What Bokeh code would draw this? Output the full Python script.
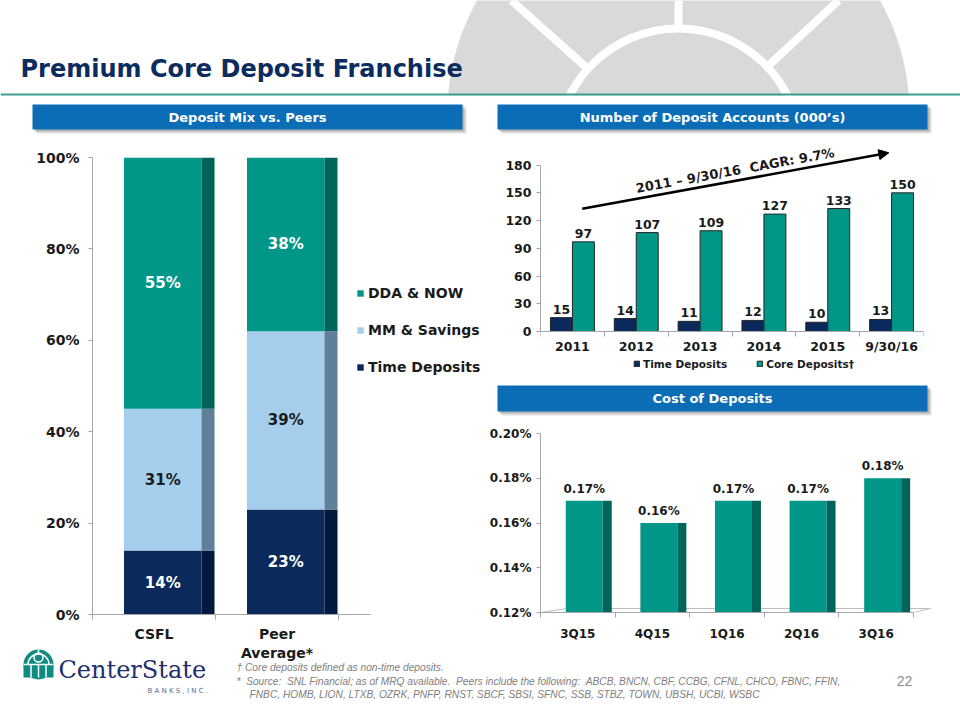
import numpy as np
from bokeh.plotting import figure
from bokeh.layouts import column, row
from bokeh.models import (Range1d, FixedTicker, PrintfTickFormatter, Legend, LegendItem,
                          Arrow, NormalHead, Label, ColumnDataSource)
from bokeh.core.properties import value
from bokeh.embed import file_html
from bokeh.resources import INLINE

# ------------------------------------------------------------------ data
MIX_CATEGORIES = ["CSFL", "Peer\nAverage*"]
MIX_SERIES = ["Time Deposits", "MM & Savings", "DDA & NOW"]
MIX_TIME = [14, 23]
MIX_MM = [31, 39]
MIX_DDA = [55, 38]
MIX_TICKS = [0, 20, 40, 60, 80, 100]

ACCT_YEARS = ["2011", "2012", "2013", "2014", "2015", "9/30/16"]
ACCT_TIME = [15, 14, 11, 12, 10, 13]
ACCT_CORE = [97, 107, 109, 127, 133, 150]
ACCT_TICKS = [0, 30, 60, 90, 120, 150, 180]
ACCT_SERIES = ["Time Deposits", "Core Deposits†"]
CAGR_TEXT = "2011 – 9/30/16\u00a0\u00a0CAGR: 9.7%"

COST_QUARTERS = ["3Q15", "4Q15", "1Q16", "2Q16", "3Q16"]
COST_VALUES = [0.17, 0.16, 0.17, 0.17, 0.18]
COST_TICKS = [0.12, 0.14, 0.16, 0.18, 0.20]

TITLE = "Premium Core Deposit Franchise"
BANNER_TEXTS = ["Deposit Mix vs. Peers", "Number of Deposit Accounts (000’s)", "Cost of Deposits"]
FOOTNOTES = ["† Core deposits defined as non-time deposits.",
             "*\u00a0\u00a0Source:\u00a0\u00a0SNL Financial; as of MRQ available.\u00a0\u00a0Peers include the following:\u00a0\u00a0"
             "ABCB, BNCN, CBF, CCBG, CFNL, CHCO, FBNC, FFIN,",
             "FNBC, HOMB, LION, LTXB, OZRK, PNFP, RNST, SBCF, SBSI, SFNC, SSB, STBZ, TOWN, UBSH, UCBI, WSBC"]
PAGE_NUMBER = "22"

# ------------------------------------------------------------------ style
W, H = 960, 720
TEAL, TEAL_D = "#009688", "#00645b"
LIGHT, LIGHT_D = "#a5cdec", "#60809a"
NAVY, NAVY_D = "#0b2a5b", "#021a3f"
AXIS = "#a6a6a6"
INK = "#1a1a1a"
BLUE = "#0b6db6"
FONT = "DejaVu Sans"


def layer(fl, ft, fr, fb, xr, yr):
    """A full-page transparent figure whose frame sits at page box (fl, ft, fr, fb)."""
    p = figure(width=W, height=H, x_range=xr, y_range=yr, output_backend="svg",
               toolbar_location=None,
               min_border_left=int(round(fl)), min_border_right=int(round(W - fr)),
               min_border_top=int(round(ft)), min_border_bottom=int(round(H - fb)))
    p.background_fill_color = None
    p.border_fill_color = None
    p.outline_line_color = None
    p.grid.visible = False
    return p


def style_axes(p, size):
    for ax in (p.xaxis[0], p.yaxis[0]):
        ax.axis_line_color = AXIS
        ax.major_tick_line_color = AXIS
        ax.minor_tick_line_color = AXIS
        ax.major_label_text_font = FONT
        ax.major_label_text_font_style = "bold"
        ax.major_label_text_font_size = size
        ax.major_label_text_color = INK
        ax.major_tick_in = 0
        ax.minor_tick_in = 0
    p.yaxis.major_tick_out = 4
    p.yaxis.minor_tick_out = 0
    p.xaxis.major_tick_out = 0
    p.xaxis.minor_tick_out = 5


# ================================================================ background / decorations
deco = figure(width=W, height=H, x_range=Range1d(0, W), y_range=Range1d(H, 0),
              min_border=0, x_axis_location=None, y_axis_location=None,
              output_backend="svg", toolbar_location=None)
deco.grid.visible = False
deco.outline_line_color = None
deco.background_fill_color = "white"
deco.border_fill_color = "white"

# grey window-arch watermark
deco.circle(x=678, y=113, radius=231, fill_color="#d9d9d9", line_color=None)
deco.annulus(x=678, y=150, inner_radius=118, outer_radius=126, fill_color="white", line_color=None)
deco.segment(x0=[678, 511, 838], y0=[0, 0, 0], x1=[678, 587, 767], y1=[26, 68, 66],
             line_color="white", line_width=8)
deco.quad(left=0, right=W, top=95, bottom=H, fill_color="white", line_color=None)
deco.segment(x0=[0], y0=[94], x1=[W], y1=[94], line_color="#3f9c92", line_width=2)

deco.text(x=[20], y=[68.5], text=[TITLE], text_font=value(FONT), text_font_style="bold",
          text_font_size="24px", text_color="#0c2b5e", text_baseline="middle")

# section banners
bl = [32, 497, 497]
br_ = [462, 927, 927]
bt = [104, 104, 385]
bb = [129, 129, 411]
deco.quad(left=[v + 4 for v in bl], right=[v + 4 for v in br_], top=[v + 4 for v in bt],
          bottom=[v + 4 for v in bb], fill_color="#7f7f7f", fill_alpha=0.25, line_color=None)
deco.quad(left=[v + 2 for v in bl], right=[v + 2 for v in br_], top=[v + 2 for v in bt],
          bottom=[v + 2 for v in bb], fill_color="#7f7f7f", fill_alpha=0.45, line_color=None)
deco.quad(left=bl, right=br_, top=bt, bottom=bb, fill_color=BLUE, line_color=None)
deco.text(x=[(a + b) / 2 for a, b in zip(bl, br_)], y=[(a + b) / 2 for a, b in zip(bt, bb)],
          text=BANNER_TEXTS, text_font=value(FONT), text_font_style="bold", text_font_size="13px",
          text_color="white", text_align="center", text_baseline="middle")

# logo
LOGO = "#0f8c82"
deco.circle(x=38, y=664, radius=15, fill_color=LOGO, line_color=None)
deco.quad(left=23, right=53, top=664, bottom=677, fill_color=LOGO, line_color=None)
deco.circle(x=38, y=657, radius=4.5, fill_color=None, line_color="white", line_width=1.5)
deco.arc(x=38, y=664, radius=10.5, start_angle=0, end_angle=np.pi, line_color="white", line_width=1.5)
deco.segment(x0=[23, 30.5, 38, 45.5, 38, 38], y0=[664, 664, 664, 664, 653.5, 649],
             x1=[53, 30.5, 38, 45.5, 38, 38], y1=[664, 677, 677, 677, 653.5, 652.5],
             line_color="white", line_width=1.5)
deco.text(x=[58], y=[669.5], text=["CenterState"], text_font=value("DejaVu Serif"),
          text_font_size="24px", text_color="#1d2f6e", text_baseline="middle")
deco.text(x=[147], y=[690], text=["B A N K S ,  I N C ."], text_font=value(FONT),
          text_font_size="7px", text_color="#5b6b8a", text_baseline="middle")

# footnotes
deco.text(x=[236, 236, 249], y=[667, 681, 694], text=FOOTNOTES, text_font=value("Liberation Sans"),
          text_font_style="italic", text_font_size="10.2px", text_color="#808080",
          text_baseline="middle")
deco.text(x=[904], y=[680], text=[PAGE_NUMBER], text_font=value("Liberation Sans"),
          text_font_size="14px", text_color="#8c8c8c", text_align="center", text_baseline="middle")

# ================================================================ left: deposit mix
UNIT_L = 123.0
AXIS_END_L = -0.5 + 278 / UNIT_L
left = layer(92, 157, 482, 614, Range1d(-0.5, -0.5 + 390 / UNIT_L), Range1d(0, 100))
xi = np.arange(len(MIX_CATEGORIES))
front = xi + 0.071
side = front + 0.315 + 0.053
msrc = ColumnDataSource(dict(front=front, side=side, time=MIX_TIME, mm=MIX_MM, dda=MIX_DDA))
stack = ["time", "mm", "dda"]
fronts = left.vbar_stack(stack, x="front", width=0.63, source=msrc,
                         fill_color=[NAVY, LIGHT, TEAL], line_color=None)
left.vbar_stack(stack, x="side", width=0.106, source=msrc,
                fill_color=[NAVY_D, LIGHT_D, TEAL_D], line_color=None)

lab_x, lab_y, lab_t, lab_c = [], [], [], []
for i in range(len(MIX_CATEGORIES)):
    base = 0
    for vals, col in ((MIX_TIME, "white"), (MIX_MM, INK), (MIX_DDA, "white")):
        lab_x.append(front[i])
        lab_y.append(base + vals[i] / 2)
        lab_t.append(f"{vals[i]}%")
        lab_c.append(col)
        base += vals[i]
left.text(x=lab_x, y=lab_y, text=lab_t, text_color=lab_c, text_font=value(FONT),
          text_font_style="bold", text_font_size="15px", text_align="center", text_baseline="middle")

style_axes(left, "14px")
left.yaxis.ticker = FixedTicker(ticks=MIX_TICKS)
left.yaxis.formatter = PrintfTickFormatter(format="%d%%")
left.yaxis.major_label_standoff = 9
left.xaxis.ticker = FixedTicker(ticks=list(xi), minor_ticks=[-0.5, 0.5, 1.5])
left.xaxis.bounds = (-0.5, AXIS_END_L)
left.xaxis.major_label_overrides = {int(i): c for i, c in enumerate(MIX_CATEGORIES)}
left.xaxis.major_label_standoff = 6

mix_leg = Legend(items=[LegendItem(label=MIX_SERIES[2], renderers=[fronts[2]]),
                        LegendItem(label=MIX_SERIES[1], renderers=[fronts[1]]),
                        LegendItem(label=MIX_SERIES[0], renderers=[fronts[0]])],
                 location=(264, 239), glyph_width=8, glyph_height=8, label_standoff=4,
                 label_height=17, spacing=20, padding=0, margin=0, border_line_color=None,
                 background_fill_alpha=0, label_text_font=FONT, label_text_font_style="bold",
                 label_text_font_size="14px", label_text_color=INK)
left.add_layout(mix_leg)

# ================================================================ top right: accounts
PX_A = 166.4 / 180.0
tr = layer(540, 145, 923, 375, Range1d(-0.5, 5.5), Range1d(-44 / PX_A, 186 / PX_A))
xa = np.arange(len(ACCT_YEARS))
rt = tr.vbar(x=xa - 0.172, top=ACCT_TIME, width=0.344, fill_color=NAVY, line_color="#262626", line_width=1)
rc = tr.vbar(x=xa + 0.172, top=ACCT_CORE, width=0.344, fill_color=TEAL, line_color="#262626", line_width=1)
tr.text(x=list(xa - 0.172) + list(xa + 0.172), y=ACCT_TIME + ACCT_CORE,
        text=[str(v) for v in ACCT_TIME + ACCT_CORE], text_font=value(FONT), text_font_style="bold",
        text_font_size="12.5px", text_color=INK, text_align="center", text_baseline="bottom",
        y_offset=-4)
style_axes(tr, "12.5px")
tr.yaxis.ticker = FixedTicker(ticks=ACCT_TICKS)
tr.yaxis.bounds = (0, 180)
tr.yaxis.major_label_standoff = 5
tr.xaxis.ticker = FixedTicker(ticks=list(xa), minor_ticks=[k - 0.5 for k in range(len(ACCT_YEARS) + 1)])
tr.xaxis.fixed_location = 0
tr.xaxis.major_label_overrides = {int(i): c for i, c in enumerate(ACCT_YEARS)}
tr.xaxis.major_label_standoff = 2

tr.add_layout(Arrow(end=NormalHead(size=10, fill_color="black", line_color="black"),
                    x_start=0.153, y_start=132.7, x_end=4.957, y_end=193.3,
                    line_color="black", line_width=2.5))
tr.add_layout(Label(x=2.55, y=174.2, text=CAGR_TEXT, angle=0.1806, text_align="center",
                    text_baseline="middle", text_font=FONT, text_font_style="bold",
                    text_font_size="13px", text_color=INK))
acct_leg = Legend(items=[LegendItem(label=ACCT_SERIES[0], renderers=[rt]),
                         LegendItem(label=ACCT_SERIES[1], renderers=[rc])],
                  orientation="horizontal", location=(93, 5), glyph_width=7, glyph_height=7,
                  label_standoff=3, spacing=29, label_height=13, padding=0, margin=0,
                  border_line_color=None, background_fill_alpha=0, label_text_font=FONT,
                  label_text_font_style="bold", label_text_font_size="10.5px",
                  label_text_color=INK)
tr.add_layout(acct_leg)

# ================================================================ bottom right: cost of deposits
UNIT_C = 74.6
PX_C = 0.08 / 179.0
bp = layer(540, 433, 935, 612, Range1d(-0.5, 4.5 + 22 / UNIT_C), Range1d(0.12, 0.20))
xc = np.arange(len(COST_QUARTERS))
floor_y = COST_TICKS[0]
bp.patch(x=[-0.5, 4.5, 4.5 + 17 / UNIT_C, -0.5 + 27 / UNIT_C],
         y=[floor_y, floor_y, floor_y + 4 * PX_C, floor_y + 4 * PX_C],
         fill_color="white", line_color="#bfbfbf", line_width=1)
bp.vbar(x=xc + 0.087, bottom=floor_y, top=COST_VALUES, width=0.496, fill_color=TEAL, line_color=None)
bp.vbar(x=xc + 0.087 + 0.248 + 0.06, bottom=floor_y, top=COST_VALUES, width=0.12,
        fill_color=TEAL_D, line_color=None)
bp.text(x=xc + 0.087, y=COST_VALUES, text=[f"{v:.2f}%" for v in COST_VALUES], text_font=value(FONT),
        text_font_style="bold", text_font_size="12px", text_color=INK, text_align="center",
        text_baseline="bottom", y_offset=-5)
style_axes(bp, "12px")
bp.yaxis.ticker = FixedTicker(ticks=COST_TICKS)
bp.yaxis.formatter = PrintfTickFormatter(format="%.2f%%")
bp.yaxis.major_label_standoff = 5
bp.xaxis.ticker = FixedTicker(ticks=list(xc), minor_ticks=[k - 0.5 for k in range(len(COST_QUARTERS) + 1)])
bp.xaxis.bounds = (-0.5, 4.5)
bp.xaxis.major_label_overrides = {int(i): c for i, c in enumerate(COST_QUARTERS)}
bp.xaxis.major_label_standoff = 9

# each layer sits in its own row so the frames are not aligned with each other;
# negative top margins stack the transparent layers over the decorated background
layers = [row(deco, margin=(0, 0, 0, 0))]
for f in (left, tr, bp):
    layers.append(row(f, margin=(-H, 0, 0, 0)))
page = column(*layers, spacing=0)

open("out.html", "w").write(file_html(page, INLINE))
